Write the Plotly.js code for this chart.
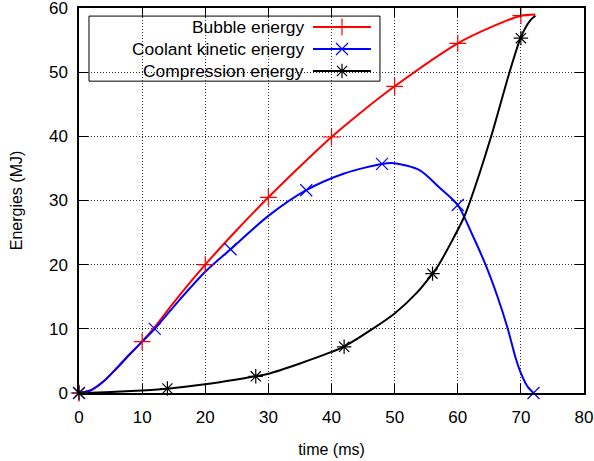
<!DOCTYPE html>
<html>
<head>
<meta charset="utf-8">
<script src="https://cdn.plot.ly/plotly-3.0.1.min.js"></script>
<style>html,body{margin:0;padding:0;background:#fff;}#chart{width:594px;height:461px;}</style>
</head>
<body>
<div id="chart"></div>
<script>
// Curve samples (time in ms, energy in MJ)
const bubbleLineT = [0, 2, 4, 6, 8, 10, 12, 15, 20, 25, 30, 35, 40, 45, 50, 60, 65, 70, 72.3];
const bubbleLineE = [0, 0.5, 1.9, 3.9, 6.0, 8.0, 10.3, 14.1, 20.0, 25.4, 30.5, 35.3, 39.9, 44.0, 47.8, 54.5, 56.9, 58.8, 59.0];
const coolantLineT = [0, 2, 4, 6, 8, 10, 12, 16, 20, 24, 30, 36, 42, 48, 50, 54, 57, 60, 62.2, 64.4, 66.3, 67.9, 69.1, 70, 71, 72];
const coolantLineE = [0, 0.5, 1.9, 3.9, 6.0, 8.0, 10.0, 14.6, 18.9, 22.4, 27.6, 31.6, 34.2, 35.7, 35.8, 34.7, 32.1, 29.3, 24.9, 20.0, 15.0, 10.1, 5.7, 3.1, 1.1, 0];
const compLineT = [0, 5, 10, 14, 20, 25, 28, 30, 35, 40, 41.9, 46.5, 50, 53.5, 56, 57, 60.9, 62, 65.3, 68.2, 69.9, 70.95, 71.7, 72.3];
const compLineE = [0, 0.15, 0.4, 0.67, 1.35, 2.1, 2.6, 3.0, 4.6, 6.4, 7.2, 10.0, 12.4, 15.6, 18.6, 20.0, 27.2, 30.0, 40.0, 50.0, 55.2, 57.3, 58.3, 58.8];

// Marker points
const bubbleT = [0, 10, 20, 30, 40, 50, 60, 70];
const bubbleE = [0, 8.0, 20.0, 30.5, 39.9, 47.8, 54.5, 58.8];
const coolantT = [0, 12, 24, 36, 48, 60, 72];
const coolantE = [0, 10.0, 22.4, 31.6, 35.7, 29.3, 0];
const compT = [0, 14, 28, 42, 56, 70];
const compE = [0, 0.7, 2.6, 7.2, 18.6, 55.3];

const seriesNames = ["Bubble energy", "Coolant kinetic energy", "Compression energy"];
const seriesColors = ["#ff0000", "#0000ff", "#000000"];
const seriesSymbols = ["cross-thin", "x-thin", "asterisk-open"];

const xTicks = [0, 10, 20, 30, 40, 50, 60, 70, 80];
const yTicks = [0, 10, 20, 30, 40, 50, 60];

const FONT = "Liberation Sans, Arial, sans-serif";

const lines = [[bubbleLineT, bubbleLineE], [coolantLineT, coolantLineE], [compLineT, compLineE]];
const marks = [[bubbleT, bubbleE], [coolantT, coolantE], [compT, compE]];

const traces = [];
lines.forEach((l, i) => {
  traces.push({x: l[0], y: l[1], type: "scatter", mode: "lines", showlegend: false,
    line: {color: seriesColors[i], width: 2, shape: "spline", smoothing: 0.8}, cliponaxis: false, hoverinfo: "skip"});
});
marks.forEach((m, i) => {
  traces.push({x: m[0], y: m[1], type: "scatter", mode: "markers", showlegend: false, cliponaxis: false,
    marker: {symbol: seriesSymbols[i], size: 12, color: seriesColors[i], line: {color: seriesColors[i], width: 1.2}}});
});

// Custom gnuplot-style legend (text right, sample left->right)
const legendRows = [0.9506, 0.8935, 0.8364];
const annotations = [];
seriesNames.forEach((name, i) => {
  traces.push({x: [0.4634, 0.578], y: [legendRows[i], legendRows[i]], xaxis: "x2", yaxis: "y2", type: "scatter",
    mode: "lines", showlegend: false, hoverinfo: "skip", line: {color: seriesColors[i], width: 2}});
  traces.push({x: [0.5208], y: [legendRows[i]], xaxis: "x2", yaxis: "y2", type: "scatter",
    mode: "markers", showlegend: false, hoverinfo: "skip",
    marker: {symbol: seriesSymbols[i], size: 12, color: seriesColors[i], line: {color: seriesColors[i], width: 1.2}}});
  annotations.push({xref: "paper", yref: "paper", x: 0.449, y: legendRows[i], xanchor: "right", yanchor: "middle",
    text: name, showarrow: false, font: {family: FONT, size: 17.4, color: "#000"}});
});

const axisCommon = {
  showline: true, linecolor: "#000", linewidth: 1.6, mirror: "allticks",
  ticks: "inside", ticklen: 9, tickwidth: 1, tickcolor: "#000",
  showgrid: true, gridcolor: "#333", griddash: "1px,2px", gridwidth: 1,
  zeroline: false, tickfont: {family: FONT, size: 17, color: "#000"},
  ticklabeloverflow: "allow"
};

const layout = {
  width: 594, height: 461,
  margin: {l: 79, r: 10, t: 8, b: 68},
  paper_bgcolor: "#fff", plot_bgcolor: "#fff",
  font: {family: FONT, size: 16, color: "#000"},
  xaxis: Object.assign({}, axisCommon, {range: [0, 80], tickvals: xTicks, ticktext: xTicks.map(String),
    ticklabelstandoff: 8,
    title: {text: "time (ms)", font: {family: FONT, size: 16}, standoff: 18}}),
  yaxis: Object.assign({}, axisCommon, {range: [0, 60], tickvals: yTicks, ticktext: yTicks.map(String),
    ticklabelstandoff: 6,
    title: {text: "Energies (MJ)", font: {family: FONT, size: 16}, standoff: 22}}),
  xaxis2: {range: [0, 1], overlaying: "x", visible: false, fixedrange: true},
  yaxis2: {range: [0, 1], overlaying: "y", visible: false, fixedrange: true},
  shapes: [{type: "rect", xref: "paper", yref: "paper", x0: 0.0198, x1: 0.596, y0: 0.810, y1: 0.979,
    line: {color: "#000", width: 1}, fillcolor: "#fff", layer: "between"}],
  annotations: annotations,
  showlegend: false
};

Plotly.newPlot("chart", traces, layout, {staticPlot: true, displayModeBar: false});
</script>
</body>
</html>
